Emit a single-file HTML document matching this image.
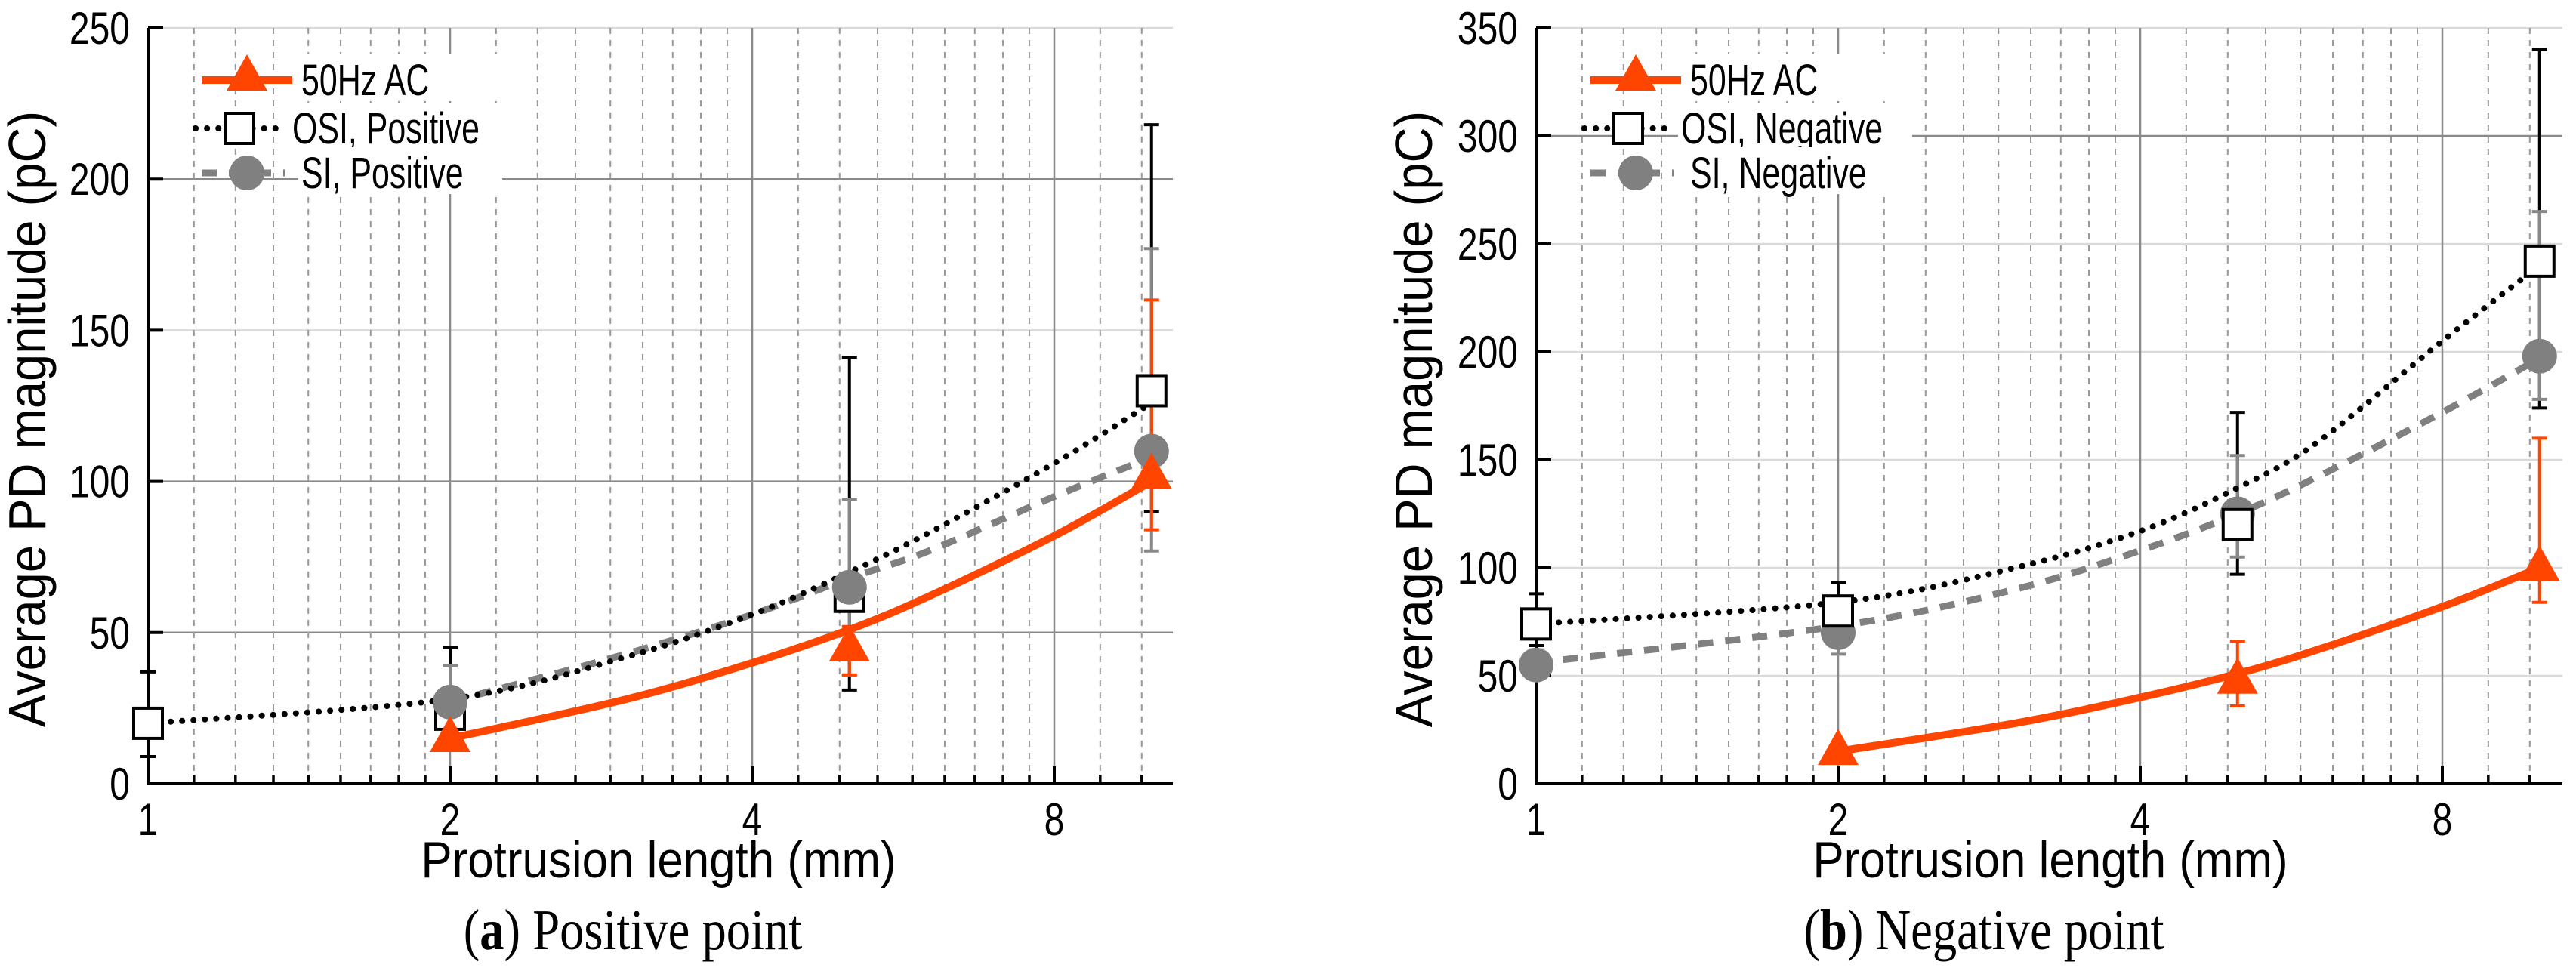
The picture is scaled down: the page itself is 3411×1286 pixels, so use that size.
<!DOCTYPE html>
<html><head><meta charset="utf-8"><style>
html,body{margin:0;padding:0;background:#fff;}
svg{display:block;}
text{font-family:"Liberation Sans Narrow","Liberation Sans",sans-serif;}
.cap{font-family:"Liberation Serif",serif;}
</style></head><body>
<svg id="fig" width="3411" height="1286" viewBox="0 0 3411 1286" xmlns="http://www.w3.org/2000/svg"></svg>
<script>
// ---- data: panel (a) positive ----
const xPts = [1, 2, 5, 10];
const aOsi = [20, 23, 62, 130];
const aOsiHi = [37, 45, 141, 218];
const aOsiLo = [9, 14, 31, 90];
const aSiX = [2, 5, 10];
const aSi = [27, 65, 110];
const aSiHi = [39, 94, 177];
const aSiLo = [20, 36, 77];
const acX = [2, 5, 10];
const aAc = [15, 45, 102];
const aAcHi = [18, 52, 160];
const aAcLo = [13, 36, 84];
const trendX = [1, 2, 3, 4, 5, 6, 8, 10];
const aOsiTrend = [20, 28, 42, 56, 70, 83, 106, 126];
const aSiTrend = [null, 27, 43, 56, 68, 77, 95, 108];
const aAcTrend = [null, 15, 28, 40, 51, 62, 82, 100];
const aYTicks = [0, 50, 100, 150, 200, 250];
// ---- data: panel (b) negative ----
const bOsi = [74, 80, 120, 242];
const bOsiHi = [88, 93, 172, 340];
const bOsiLo = [64, 70, 97, 174];
const bSi = [55, 70, 125, 198];
const bSiHi = [62, 75, 152, 265];
const bSiLo = [50, 60, 105, 178];
const bAc = [15, 48, 100];
const bAcHi = [18, 66, 160];
const bAcLo = [13, 36, 84];
const bOsiTrend = [74, 84, 100, 117, 137, 158, 205, 240];
const bSiTrend = [56, 73, 90, 108, 125, 142, 172, 197];
const bAcTrend = [null, 15, 28, 40, 51, 62, 82, 100];
const bYTicks = [0, 50, 100, 150, 200, 250, 300, 350];
const xTickVals = [1, 2, 4, 8];

const NS = "http://www.w3.org/2000/svg";
const svg = document.getElementById('fig');
function el(tag, attrs, parent) {
  const e = document.createElementNS(NS, tag);
  for (const k in attrs) e.setAttribute(k, attrs[k]);
  (parent || svg).appendChild(e);
  return e;
}
function ntext(parent, x, y, size, str, anchor, sxv, extra) {
  const t = el('text', Object.assign({x: 0, y: 0, 'font-size': size, 'text-anchor': anchor || 'start',
    transform: `translate(${x},${y}) ${extra || ''} scale(${sxv},1)`}), parent);
  t.textContent = str;
  return t;
}

function panel(cfg) {
  const g = el('g', {});
  
  
  const X0 = cfg.x0, OCT = 400, Y0 = 1038, YT = 37, RIGHT = cfg.right;
  const ymax = cfg.ymax;
  const sx = v => X0 + Math.log2(v) * OCT;
  const sy = v => Y0 - v / ymax * (Y0 - YT);
  cfg.yticks.forEach(t => {
    if (t === 0) return;
    const dark = cfg.darkY.indexOf(t) >= 0;
    const l = el('line', {x1: X0, x2: RIGHT, y1: sy(t), y2: sy(t), stroke: dark ? '#8a8a8a' : '#dadada', 'stroke-width': 2.5}, g);
    
    
  });
  [1, 2, 4, 8].forEach(b => {
    for (let k = 0; k < 9; k++) {
      const v = b * (1 + k / 9);
      const x = sx(v);
      if (x > RIGHT + 1) continue;
      if (k === 0) {
        if (b !== 1) {
          const l = el('line', {x1: x, x2: x, y1: YT, y2: Y0, stroke: '#8a8a8a', 'stroke-width': 2.5}, g);
          
          
        }
        el('line', {x1: x, x2: x, y1: Y0 - 24, y2: Y0, stroke: '#000', 'stroke-width': 4}, g);
      } else {
        const l = el('line', {x1: x, x2: x, y1: YT, y2: Y0, stroke: '#999', 'stroke-width': 2, 'stroke-dasharray': '8,8'}, g);
        
        
        el('line', {x1: x, x2: x, y1: Y0 - 12, y2: Y0, stroke: '#000', 'stroke-width': 3.5}, g);
      }
    }
  });
  const ax = el('path', {d: `M${X0},${YT} V${Y0} H${RIGHT}`, stroke: '#000', 'stroke-width': 4, fill: 'none'}, g);
  
  
  cfg.yticks.forEach(t => {
    el('line', {x1: X0, x2: X0 + 20, y1: sy(t), y2: sy(t), stroke: '#000', 'stroke-width': 4}, g);
    const tx = ntext(g, X0 - 24, sy(t) + 21, 60, String(t), 'end', 0.8);
    
    
  });
  xTickVals.forEach(t => {
    const tx = ntext(g, sx(t), 1106, 60, String(t), 'middle', 0.8);
    
    
  });
  const xt = ntext(g, cfg.xTitleX, 1162, 68, 'Protrusion length (mm)', 'middle', 0.91);
  
  
  const yt = ntext(g, cfg.yTitleX, 555, 70, 'Average PD magnitude (pC)', 'middle', 0.93, 'rotate(-90)');
  
  
  const cap = el('text', {x: 0, y: 0, 'font-size': 76, 'text-anchor': 'middle', class: 'cap', transform: `translate(${cfg.capX},1257) scale(0.85,1)`}, g);
  cap.innerHTML = '(<tspan font-weight="bold">' + cfg.letter + '</tspan>) ' + cfg.caption;
  
  

  function curve(vals, style, nm) {
    const pts = [];
    trendX.forEach((x, i) => { if (vals[i] !== null) pts.push([sx(x), sy(vals[i])]); });
    let d = `M${pts[0][0]},${pts[0][1]}`;
    for (let i = 0; i < pts.length - 1; i++) {
      const p0 = pts[Math.max(0, i - 1)], p1 = pts[i], p2 = pts[i + 1], p3 = pts[Math.min(pts.length - 1, i + 2)];
      const c1 = [p1[0] + (p2[0] - p0[0]) / 6, p1[1] + (p2[1] - p0[1]) / 6];
      const c2 = [p2[0] - (p3[0] - p1[0]) / 6, p2[1] - (p3[1] - p1[1]) / 6];
      d += ` C${c1[0]},${c1[1]} ${c2[0]},${c2[1]} ${p2[0]},${p2[1]}`;
    }
    const p = el('path', Object.assign({d: d, fill: 'none'}, style), g);
    
    
  }
  function errbar(x, lo, hi, color, w, nm) {
    const e = el('path', {d: `M${sx(x)},${sy(lo)} V${sy(hi)} M${sx(x) - 10},${sy(hi)} h20 M${sx(x) - 10},${sy(lo)} h20`, stroke: color, 'stroke-width': w, fill: 'none'}, g);
    
    
  }
  function tri(cx, cy, nm, par) {
    const t = el('path', {d: `M${cx},${cy - 30} L${cx + 27},${cy + 18} L${cx - 27},${cy + 18} Z`, fill: '#ff4500'}, par || g);
    
    
  }
  function sq(cx, cy, nm, par) {
    const s = el('rect', {x: cx - 19, y: cy - 20, width: 38, height: 40, fill: '#fff', stroke: '#000', 'stroke-width': 4}, par || g);
    
    
  }
  function circ(cx, cy, nm, par) {
    const c = el('circle', {cx: cx, cy: cy, r: 23, fill: '#808080'}, par || g);
    
    
  }
  cfg.osiX.forEach((x, i) => errbar(x, cfg.osiLo[i], cfg.osiHi[i], '#000', 4, 'osi-error-bar'));
  cfg.siX.forEach((x, i) => errbar(x, cfg.siLo[i], cfg.siHi[i], '#888', 4, 'si-error-bar'));
  acX.forEach((x, i) => errbar(x, cfg.acLo[i], cfg.acHi[i], '#ff4500', 4, 'ac-error-bar'));
  curve(cfg.acTrend, {stroke: '#ff4500', 'stroke-width': 10}, 'ac-trend-line');
  curve(cfg.siTrend, {stroke: '#808080', 'stroke-width': 9, 'stroke-dasharray': '20,16'}, 'si-trend-line');
  curve(cfg.osiTrend, {stroke: '#000', 'stroke-width': 8, 'stroke-dasharray': '0.1,15', 'stroke-linecap': 'round'}, 'osi-trend-line');
  if (cfg.circlesFirst) {
    cfg.siX.forEach((x, i) => circ(sx(x), sy(cfg.si[i]), 'si-marker'));
    cfg.osiX.forEach((x, i) => sq(sx(x), sy(cfg.osi[i]), 'osi-marker'));
  } else {
    cfg.osiX.forEach((x, i) => sq(sx(x), sy(cfg.osi[i]), 'osi-marker'));
    cfg.siX.forEach((x, i) => circ(sx(x), sy(cfg.si[i]), 'si-marker'));
  }
  acX.forEach((x, i) => tri(sx(x), sy(cfg.ac[i]), 'ac-marker'));
  const lg = el('g', {}, g);
  
  
  const L = cfg.legX, entries = [[106, 'ac', '50Hz AC'], [170, 'osi', 'OSI, ' + cfg.sign], [229, 'si', 'SI, ' + cfg.sign]];
  entries.forEach(en => {
    const y = en[0], mid = L + 60;
    let tx0 = L + 132;
    if (en[1] === 'ac') { el('line', {x1: L, x2: L + 120, y1: y, y2: y, stroke: '#ff4500', 'stroke-width': 10}, lg); tri(mid, y - 4, 'legend-ac-marker', lg); }
    if (en[1] === 'osi') { el('line', {x1: L - 8, x2: L + 108, y1: y, y2: y, stroke: '#000', 'stroke-width': 8, 'stroke-dasharray': '0.1,15', 'stroke-linecap': 'round'}, lg); sq(L + 50, y, 'legend-osi-marker', lg); tx0 = L + 120; }
    if (en[1] === 'si') { el('line', {x1: L, x2: L + 110, y1: y, y2: y, stroke: '#808080', 'stroke-width': 9, 'stroke-dasharray': '20,16'}, lg); circ(mid, y, 'legend-si-marker', lg); }
    const bgW = en[1] === 'osi' ? 310 : 270;
    el('rect', {x: tx0 - 4, y: y - 34, width: bgW, height: 62, fill: '#fff'}, lg);
    const t = ntext(lg, tx0, y + 20, 58, en[2], 'start', 0.74);
    
    
  });
}

panel({name: 'panel-a-positive', x0: 196, right: 1553, ymax: 250, yticks: aYTicks, darkY: [50, 100, 200],
  osiX: xPts, osi: aOsi, osiHi: aOsiHi, osiLo: aOsiLo, siX: aSiX, si: aSi, siHi: aSiHi, siLo: aSiLo,
  ac: aAc, acHi: aAcHi, acLo: aAcLo, osiTrend: aOsiTrend, siTrend: aSiTrend, acTrend: aAcTrend, circlesFirst: false,
  xTitleX: 872, yTitleX: 60, capX: 838, letter: 'a', caption: 'Positive point', legX: 267, sign: 'Positive'});
panel({name: 'panel-b-negative', x0: 2034, right: 3393, ymax: 350, yticks: bYTicks, darkY: [300],
  osiX: xPts, osi: bOsi, osiHi: bOsiHi, osiLo: bOsiLo, siX: xPts, si: bSi, siHi: bSiHi, siLo: bSiLo,
  ac: bAc, acHi: bAcHi, acLo: bAcLo, osiTrend: bOsiTrend, siTrend: bSiTrend, acTrend: bAcTrend, circlesFirst: true,
  xTitleX: 2715, yTitleX: 1896, capX: 2627, letter: 'b', caption: 'Negative point', legX: 2106, sign: 'Negative'});
</script>
</body></html>
